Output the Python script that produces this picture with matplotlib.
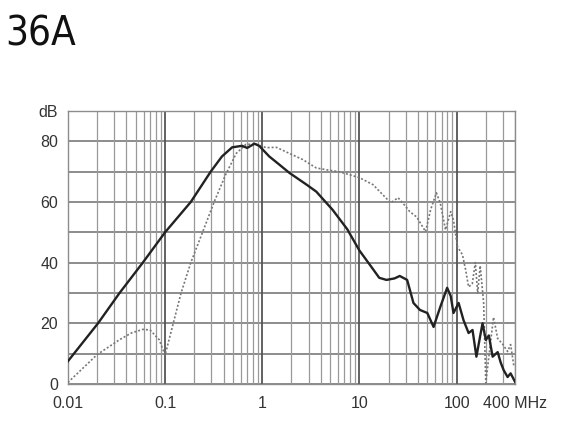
import matplotlib
matplotlib.use("Agg")
import matplotlib.pyplot as plt
import numpy as np

# solid curve (frequency in MHz, level in dB)
solid_f = [0.01, 0.0204, 0.034, 0.059, 0.1, 0.184, 0.295, 0.385, 0.49, 0.62, 0.70, 0.83, 0.93,
           1.18, 1.5, 1.9, 2.86, 3.6, 5.3, 7.5, 10, 13, 16, 19, 23, 26, 31, 36,
           42, 50, 58, 68, 80, 87, 93, 105, 118, 133, 146, 160, 185, 200, 215,
           235, 265, 285, 305, 335, 360, 400]
solid_db = [7.5, 20, 30, 40, 50, 60, 70, 75, 78, 78.5, 77.8, 79.2, 78.5,
            75, 72.3, 69.6, 65.7, 63.4, 57.4, 51, 44, 39, 35, 34.3, 34.8, 35.6, 34.3, 26.7,
            24.4, 23.4, 18.8, 25.4, 31.7, 29, 23.4, 26.7, 21, 16.8, 17.8, 9, 20, 14.5, 16,
            9, 10.5, 7, 4.6, 2.3, 3.5, 0.7]

# dotted curve
dot_f = [0.01, 0.02, 0.034, 0.045, 0.059, 0.07, 0.087, 0.1, 0.146, 0.184,
         0.243, 0.32, 0.42, 0.54, 0.68, 0.87, 1.1, 1.4, 1.9, 2.6, 3.6, 4.6, 6.3,
         10, 13.8, 21, 25, 30, 33, 39, 48, 54, 62, 68, 77, 87, 93, 102, 115, 124,
         133, 145, 156, 165, 175, 190, 200, 215, 240, 265, 300, 335, 360, 390]
dot_db = [0.5, 9.7, 14.6, 16.8, 18, 17.8, 14.6, 9.5, 30, 40,
          50, 60, 69, 76, 79, 79, 77.9, 78, 76, 74, 71.2, 70.6, 69.9,
          68, 65.7, 59.7, 61.4, 58.5, 56.8, 55, 50.2, 57.4, 63, 59.6, 50.8, 56.8, 54, 45.3, 42.6, 37.6,
          32, 33, 40, 30, 39, 26.7, 0.3, 9, 22, 15, 13, 10.7, 13, 5.6]

x_ticks = [0.01, 0.1, 1, 10, 100, 400]
x_labels = ["0.01", "0.1", "1", "10", "100", "400 MHz"]
y_ticks = [0, 20, 40, 60, 80, 90]
y_labels = ["0", "20", "40", "60", "80", "dB"]

plt.rcParams['font.family'] = ['Liberation Sans', 'DejaVu Sans']

fig = plt.figure(figsize=(5.66, 4.25), dpi=100)
ax = fig.add_axes([0.120, 0.0965, 0.790, 0.6425])

ax.set_xscale("log")
ax.set_xlim(0.01, 400)
ax.set_ylim(0, 90)

# grid: horizontal every 10 dB, vertical at every log step
for y in range(0, 91, 10):
    ax.axhline(y, color="#8c8c8c", lw=1.4, zorder=1)
for dec in [0.01, 0.1, 1, 10, 100]:
    for k in range(1, 10):
        v = dec * k
        if v > 400:
            break
        if k == 1:
            ax.axvline(v, color="#555555", lw=1.3, zorder=1)
        else:
            ax.axvline(v, color="#999999", lw=0.9, zorder=1)

ax.plot(dot_f, dot_db, color="#777777", lw=1.2, ls=(0, (1.2, 1.2)), zorder=3)
ax.plot(solid_f, solid_db, color="#222222", lw=1.7, zorder=4)

ax.set_xticks(x_ticks)
ax.set_xticklabels(x_labels)
ax.xaxis.set_minor_locator(matplotlib.ticker.NullLocator())
ax.set_yticks(y_ticks)
ax.set_yticklabels(y_labels)
ax.tick_params(length=0, labelsize=11.5, labelcolor="#333333")
ax.tick_params(axis="x", pad=9)
ax.tick_params(axis="y", pad=7)
for s in ax.spines.values():
    s.set_color("#8c8c8c")
    s.set_linewidth(1.0)

fig.text(0.009, 0.893, "36A", fontsize=29, family="DejaVu Sans",
         fontstretch="condensed", color="#111111", va="baseline")

fig.savefig("out.png", dpi=100)
